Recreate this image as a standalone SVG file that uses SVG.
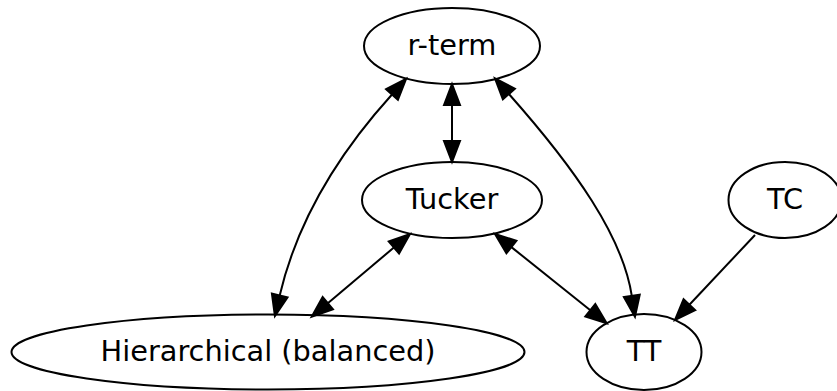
<svg xmlns="http://www.w3.org/2000/svg" width="837" height="391" viewBox="0 0 837 391">
<style>
.node ellipse{fill:none;stroke:#000;stroke-width:2}
.node text{font-family:"DejaVu Sans",sans-serif;font-size:28.8px;text-anchor:middle;fill:#000}
.edge{fill:none;stroke:#000;stroke-width:2}
.both{marker-start:url(#ah);marker-end:url(#ah)}
.one{marker-end:url(#ah)}
</style>
<defs>
<marker id="ah" markerUnits="userSpaceOnUse" markerWidth="24" markerHeight="18" refX="0" refY="8" orient="auto-start-reverse" viewBox="0 0 24 16" overflow="visible">
<path d="M0,0 L21,8 L0,16 Z" fill="#000" stroke="#000" stroke-width="2"/>
</marker>
</defs>
<rect width="837" height="391" fill="#fff"/>
<g id="rterm" class="node"><ellipse cx="452" cy="46" rx="88" ry="38"/><text x="452" y="55">r-term</text></g>
<g id="tucker" class="node"><ellipse cx="452" cy="200" rx="90" ry="38"/><text x="452" y="209">Tucker</text></g>
<g id="tc" class="node"><ellipse cx="785" cy="200" rx="56.5" ry="38"/><text x="785" y="209">TC</text></g>
<g id="hier" class="node"><ellipse cx="268" cy="352" rx="256.5" ry="37.5"/><text x="268" y="361">Hierarchical (balanced)</text></g>
<g id="tt" class="node"><ellipse cx="644" cy="352" rx="57.5" ry="38"/><text x="644" y="361">TT</text></g>
<g id="connectors">
<path class="edge both" d="M452,105 L452,141"/>
<path class="edge both" d="M392,94.5 C325,168.5 293.4,237 279.7,295.5"/>
<path class="edge both" d="M508.9,94 C575.2,168.8 622.8,236.6 631.8,295.9"/>
<path class="edge both" d="M393.9,247.5 L327.8,303.2"/>
<path class="edge both" d="M511.4,247.1 L590.3,310.2"/>
<path class="edge one" d="M755,235 L689.4,304.7"/>
</g>
</svg>
